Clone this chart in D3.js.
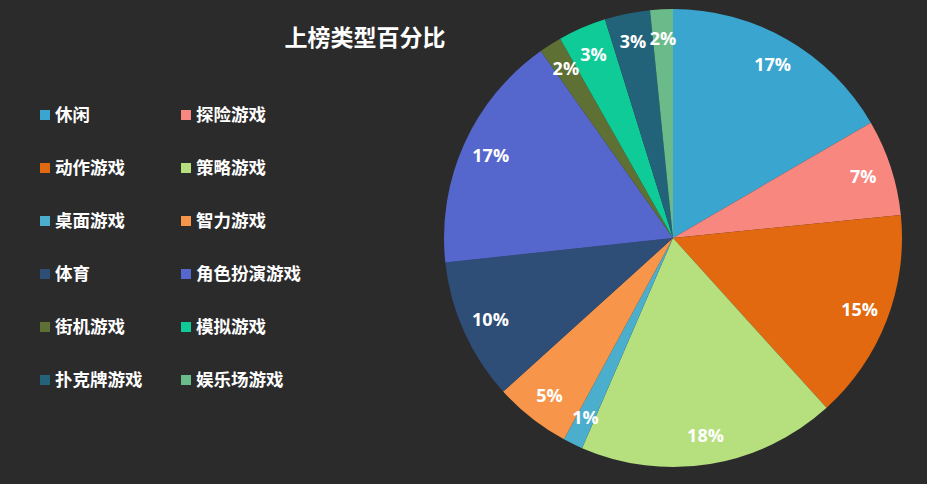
<!DOCTYPE html>
<html>
<head>
<meta charset="utf-8">
<script src="https://cdn.jsdelivr.net/npm/d3@7"></script>
<style>
  html, body { margin: 0; padding: 0; background: #2b2b2b; }
  svg { display: block; }
  text { font-family: "Noto Sans CJK SC", "Noto Sans", sans-serif; font-weight: bold; fill: #fff; }
</style>
</head>
<body>
<div id="chart"></div>
<script>
const categories = ["休闲", "探险游戏", "动作游戏", "策略游戏", "桌面游戏", "智力游戏",
  "体育", "角色扮演游戏", "街机游戏", "模拟游戏", "扑克牌游戏", "娱乐场游戏"];
const shares = [16.6, 6.8, 14.9, 18.2, 1.4, 5.4, 10.0, 16.9, 1.6, 3.4, 3.2, 1.6];
const colors = ["#3aa6d0", "#f7877f", "#e2690f", "#b6e07e", "#4caecd", "#f7964a",
  "#2e4d77", "#5566cc", "#5f7035", "#0fcb98", "#22637a", "#6bbb8a"];
const title = "上榜类型百分比";

const width = 927, height = 484;
const cx = 673, cy = 238, R = 229;

const svg = d3.select("#chart").append("svg")
  .attr("width", width).attr("height", height);

svg.append("rect").attr("width", width).attr("height", height).attr("fill", "#2b2b2b");

svg.append("text")
  .attr("x", 365).attr("y", 46)
  .attr("text-anchor", "middle")
  .style("font-size", "23px")
  .text(title);

const color = d3.scaleOrdinal().domain(categories).range(colors);

const pie = d3.pie().sort(null).value(d => d.v);
const data = categories.map((c, i) => ({ c, v: shares[i] }));
const arcs = pie(data);
const total = d3.sum(shares);

const arc = d3.arc().innerRadius(0).outerRadius(R);
const labelArc = d3.arc().innerRadius(200).outerRadius(200);

const g = svg.append("g").attr("transform", `translate(${cx},${cy})`);

g.selectAll("path")
  .data(arcs)
  .enter()
  .append("path")
  .attr("d", arc)
  .attr("fill", d => color(d.data.c));

g.selectAll("text")
  .data(arcs)
  .enter()
  .append("text")
  .attr("transform", d => `translate(${labelArc.centroid(d)})`)
  .attr("text-anchor", "middle")
  .attr("dy", "0.35em")
  .style("font-family", "'Open Sans', 'Noto Sans', sans-serif")
  .style("font-size", "18px")
  .text(d => Math.round(d.data.v / total * 100) + "%");

// legend, two columns
const legend = svg.append("g");
const item = legend.selectAll("g")
  .data(categories)
  .enter()
  .append("g")
  .attr("transform", (d, i) => `translate(${i % 2 ? 181 : 40},${115 + Math.floor(i / 2) * 53})`);

item.append("rect")
  .attr("x", 0).attr("y", -5)
  .attr("width", 10).attr("height", 10)
  .attr("fill", d => color(d));

item.append("text")
  .attr("x", 15).attr("dy", "0.36em")
  .style("font-size", "17.5px")
  .text(d => d);
</script>
</body>
</html>
